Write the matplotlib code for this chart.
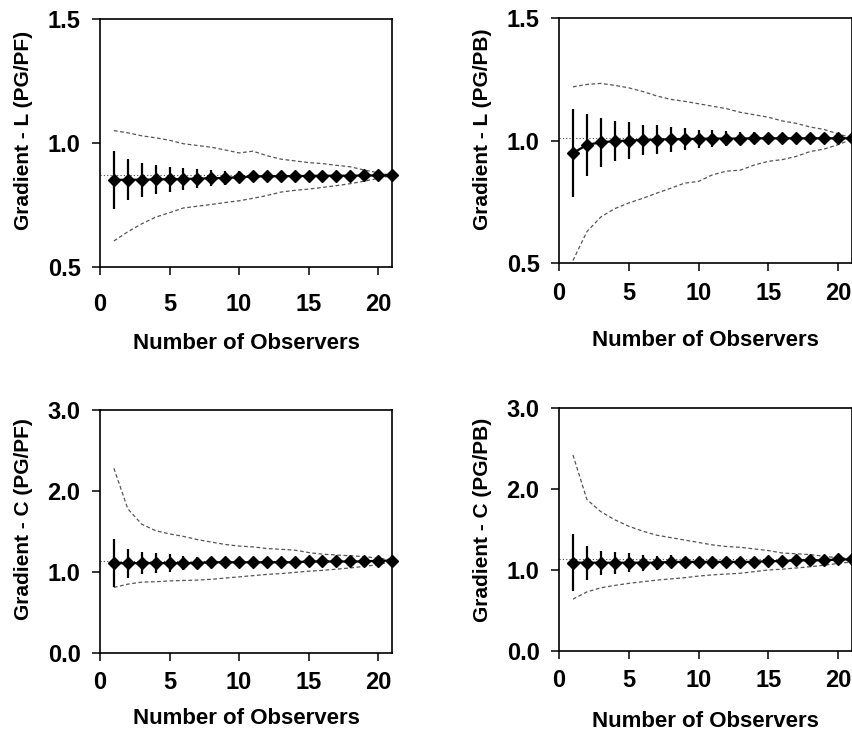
import matplotlib
matplotlib.use("Agg")
import matplotlib.pyplot as plt

plt.rcParams['font.family'] = ['Liberation Sans', 'DejaVu Sans']

observers = list(range(1, 22))

# Gradient - L (PG/PF)
l_pf_mean = [0.851, 0.852, 0.852, 0.853, 0.854, 0.855, 0.856, 0.858, 0.859, 0.862, 0.865,
             0.866, 0.866, 0.867, 0.867, 0.868, 0.868, 0.868, 0.869, 0.869, 0.869]
l_pf_err = [0.117, 0.083, 0.069, 0.058, 0.050, 0.044, 0.038, 0.033, 0.029, 0.025, 0.022,
            0.019, 0.017, 0.015, 0.013, 0.011, 0.009, 0.007, 0.005, 0.003, 0.0]
l_pf_upper = [1.050, 1.041, 1.029, 1.021, 1.011, 0.997, 0.990, 0.983, 0.972, 0.960, 0.967,
              0.949, 0.935, 0.928, 0.921, 0.917, 0.910, 0.904, 0.891, 0.880, 0.869]
l_pf_lower = [0.605, 0.642, 0.674, 0.701, 0.719, 0.738, 0.745, 0.752, 0.760, 0.767, 0.777,
              0.788, 0.802, 0.809, 0.814, 0.821, 0.828, 0.836, 0.846, 0.857, 0.869]

# Gradient - L (PG/PB)
l_pb_mean = [0.949, 0.982, 0.993, 0.997, 1.000, 1.002, 1.004, 1.005, 1.006, 1.007, 1.008,
             1.008, 1.008, 1.009, 1.009, 1.009, 1.009, 1.009, 1.009, 1.009, 1.009]
l_pb_err = [0.180, 0.126, 0.100, 0.082, 0.074, 0.063, 0.059, 0.050, 0.043, 0.037, 0.034,
            0.030, 0.027, 0.024, 0.021, 0.018, 0.015, 0.012, 0.009, 0.006, 0.0]
l_pb_upper = [1.219, 1.229, 1.233, 1.225, 1.215, 1.200, 1.182, 1.168, 1.160, 1.150, 1.140,
              1.130, 1.115, 1.105, 1.095, 1.080, 1.070, 1.055, 1.045, 1.027, 1.010]
l_pb_lower = [0.510, 0.628, 0.688, 0.722, 0.745, 0.764, 0.785, 0.805, 0.826, 0.833, 0.860,
              0.875, 0.879, 0.900, 0.915, 0.922, 0.935, 0.955, 0.965, 0.983, 1.005]

# Gradient - C (PG/PF)
c_pf_mean = [1.11, 1.11, 1.11, 1.11, 1.11, 1.11, 1.11, 1.12, 1.12, 1.12, 1.12,
             1.12, 1.12, 1.12, 1.13, 1.13, 1.13, 1.13, 1.13, 1.14, 1.14]
c_pf_err = [0.30, 0.18, 0.14, 0.12, 0.11, 0.09, 0.077, 0.06, 0.05, 0.045, 0.04,
            0.035, 0.03, 0.025, 0.02, 0.017, 0.014, 0.01, 0.007, 0.004, 0.0]
c_pf_upper = [2.28, 1.78, 1.59, 1.51, 1.47, 1.44, 1.40, 1.37, 1.34, 1.32, 1.31,
              1.29, 1.28, 1.27, 1.24, 1.22, 1.21, 1.20, 1.19, 1.17, 1.15]
c_pf_lower = [0.81, 0.85, 0.875, 0.88, 0.89, 0.895, 0.90, 0.91, 0.925, 0.94, 0.955,
              0.97, 0.98, 0.995, 1.01, 1.02, 1.035, 1.05, 1.07, 1.09, 1.13]

# Gradient - C (PG/PB)
c_pb_mean = [1.09, 1.09, 1.09, 1.09, 1.09, 1.09, 1.09, 1.10, 1.10, 1.10, 1.10,
             1.10, 1.10, 1.10, 1.11, 1.11, 1.12, 1.12, 1.12, 1.13, 1.13]
c_pb_err = [0.35, 0.21, 0.15, 0.135, 0.115, 0.10, 0.087, 0.08, 0.066, 0.062, 0.05,
            0.045, 0.04, 0.035, 0.03, 0.025, 0.02, 0.015, 0.01, 0.005, 0.0]
c_pb_upper = [2.42, 1.87, 1.72, 1.62, 1.54, 1.48, 1.43, 1.40, 1.37, 1.34, 1.31,
              1.29, 1.28, 1.26, 1.24, 1.21, 1.20, 1.19, 1.17, 1.15, 1.14]
c_pb_lower = [0.64, 0.73, 0.78, 0.81, 0.835, 0.855, 0.875, 0.89, 0.905, 0.925, 0.94,
              0.95, 0.96, 0.98, 1.00, 1.01, 1.025, 1.04, 1.06, 1.08, 1.10]

x_ticks = [0, 5, 10, 15, 20]

panels = [
    dict(rect=[100, 19, 392, 267], ylabel='Gradient - L (PG/PF)', ylim=(0.5, 1.5),
         yticks=[0.5, 1.0, 1.5], mean=l_pf_mean, err=l_pf_err, upper=l_pf_upper,
         lower=l_pf_lower, xpad=13, xlab_y=-0.266, ylab=(-0.229, 0.55)),
    dict(rect=[559, 18, 852, 263], ylabel='Gradient - L (PG/PB)', ylim=(0.5, 1.5),
         yticks=[0.5, 1.0, 1.5], mean=l_pb_mean, err=l_pb_err, upper=l_pb_upper,
         lower=l_pb_lower, xpad=8, xlab_y=-0.272, ylab=(-0.229, 0.545)),
    dict(rect=[100, 410, 392, 653], ylabel='Gradient - C (PG/PF)', ylim=(0.0, 3.0),
         yticks=[0.0, 1.0, 2.0, 3.0], mean=c_pf_mean, err=c_pf_err, upper=c_pf_upper,
         lower=c_pf_lower, xpad=7, xlab_y=-0.225, ylab=(-0.229, 0.55)),
    dict(rect=[559, 408, 852, 651], ylabel='Gradient - C (PG/PB)', ylim=(0.0, 3.0),
         yticks=[0.0, 1.0, 2.0, 3.0], mean=c_pb_mean, err=c_pb_err, upper=c_pb_upper,
         lower=c_pb_lower, xpad=7, xlab_y=-0.247, ylab=(-0.229, 0.54)),
]

W, H = 853, 738
fig = plt.figure(figsize=(W / 100, H / 100), dpi=100)

for p in panels:
    x0, y0, x1, y1 = p['rect']
    ax = fig.add_axes([x0 / W, 1 - y1 / H, (x1 - x0) / W, (y1 - y0) / H])
    ax.set_xlim(0, 21)
    ax.set_ylim(*p['ylim'])

    # final mean as dotted reference
    ax.axhline(p['mean'][-1], color='#444444', lw=0.8, ls=(0, (1, 2)), zorder=1)
    # upper and lower bounds
    ax.plot(observers, p['upper'], color='#555555', lw=0.9, ls=(0, (3, 2)), zorder=2)
    ax.plot(observers, p['lower'], color='#555555', lw=0.9, ls=(0, (3, 2)), zorder=2)
    # mean with error bars
    ax.errorbar(observers, p['mean'], yerr=p['err'], fmt='-D', color='black',
                ecolor='black', elinewidth=1.6, capsize=0, lw=1.6, ms=6.5,
                mfc='black', mec='black', zorder=3, clip_on=False)

    ax.set_xticks(x_ticks)
    ax.set_yticks(p['yticks'])
    ax.set_yticklabels([f'{v:.1f}' for v in p['yticks']])
    ax.tick_params(axis='both', direction='out', length=6, width=1.1, labelsize=17)
    ax.tick_params(axis='y', pad=8)
    ax.tick_params(axis='x', pad=p['xpad'])
    for lab in ax.get_xticklabels() + ax.get_yticklabels():
        lab.set_fontweight('bold')
    for s in ax.spines.values():
        s.set_linewidth(1.2)

    ax.set_xlabel('Number of Observers', fontsize=16, fontweight='bold')
    ax.xaxis.set_label_coords(0.5, p['xlab_y'])
    ax.set_ylabel(p['ylabel'], fontsize=15, fontweight='bold')
    ax.yaxis.set_label_coords(*p['ylab'])

fig.savefig('out.png', dpi=100)
